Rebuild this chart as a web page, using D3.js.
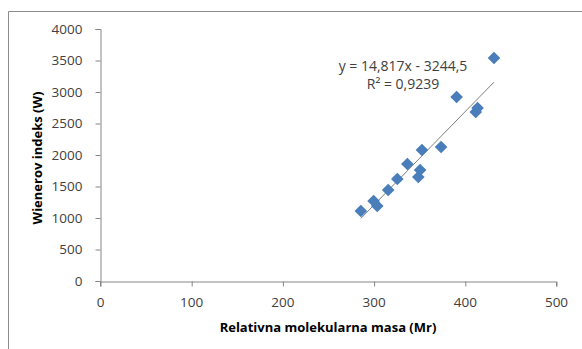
<!DOCTYPE html>
<html><head><meta charset="utf-8">
<script src="https://cdn.jsdelivr.net/npm/d3@7/dist/d3.min.js"></script>
<style>
html,body{margin:0;padding:0;background:#fff;}
svg{display:block;font-family:"Open Sans",sans-serif;}
</style></head>
<body><svg id="c" width="582" height="349"></svg>
<script>
const massValues = [286, 300, 304, 316, 326, 337, 349, 351, 353, 374, 391, 412, 414, 432];
const wienerValues = [1111, 1270, 1190, 1444, 1619, 1857, 1651, 1762, 2079, 2127, 2921, 2683, 2746, 3540];
const xTicks = [0, 100, 200, 300, 400, 500];
const yTicks = [0, 500, 1000, 1500, 2000, 2500, 3000, 3500, 4000];
const trendSlope = 14.817, trendIntercept = -3244.5;
const equationLines = ["y = 14,817x - 3244,5", "R² = 0,9239"];
const xTitle = "Relativna molekularna masa (Mr)";
const yTitle = "Wienerov indeks (W)";

const svg = d3.select("#c");
const axisColor = "#868686";
const textColor = "#404040";
const font = '"Open Sans",sans-serif';

// outer frame
svg.append("path").attr("d","M8.5,349 L8.5,11.5 L582,11.5").attr("fill","none").attr("stroke","#8c8c8c").attr("stroke-width",1);

const x = d3.scaleLinear().domain([0,500]).range([100,556]);
const y = d3.scaleLinear().domain([0,4000]).range([281,29]);

// y axis
const yAxis = svg.append("g").attr("transform","translate(100.5,0)")
  .call(d3.axisLeft(y).tickValues(yTicks).tickSize(5).tickPadding(13).tickFormat(d3.format("d")));
// x axis
const xAxis = svg.append("g").attr("transform","translate(0,281.5)")
  .call(d3.axisBottom(x).tickValues(xTicks).tickSize(5).tickPadding(11).tickFormat(d3.format("d")));
[yAxis,xAxis].forEach(g=>{
  g.selectAll("path,line").attr("stroke",axisColor);
  g.selectAll("text").attr("fill",textColor).style("font-size","13.5px").style("font-family",font);
});
xAxis.selectAll(".tick line").attr("transform","translate(0.5,0)");

// trendline
const xmin = d3.min(massValues), xmax = d3.max(massValues);
svg.append("line")
  .attr("x1",x(xmin)).attr("y1",y(trendSlope*xmin+trendIntercept))
  .attr("x2",x(xmax)).attr("y2",y(trendSlope*xmax+trendIntercept))
  .attr("stroke","#7f7f7f").attr("stroke-width",1);

// points
const sym = d3.symbol().type(d3.symbolSquare).size(80);
svg.append("g").selectAll("path").data(massValues.map((m,i)=>[m,wienerValues[i]])).join("path")
  .attr("d",sym)
  .attr("transform",d=>`translate(${x(d[0])},${y(d[1])}) rotate(45)`)
  .attr("fill","#4a7ebb");

// equation
svg.append("g").selectAll("text").data(equationLines).join("text")
  .attr("x",403).attr("y",(d,i)=>71+i*18)
  .attr("text-anchor","middle").attr("fill",textColor)
  .style("font-size","14px").style("font-family",font).text(d=>d);

// titles
svg.append("text").attr("x",328).attr("y",332).attr("text-anchor","middle")
  .attr("fill","#000").style("font-size","13px").style("font-weight","bold").style("font-family",font).text(xTitle);
svg.append("text").attr("transform","translate(42,158) rotate(-90)").attr("text-anchor","middle")
  .attr("fill","#000").style("font-size","13px").style("font-weight","bold").style("font-family",font).text(yTitle);
</script></body></html>
